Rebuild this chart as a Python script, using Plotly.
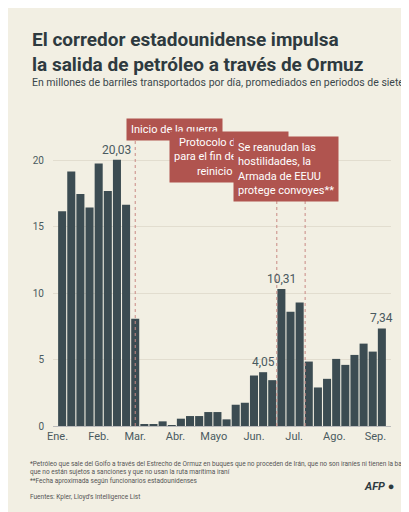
import plotly.graph_objects as go

values = [16.16, 19.15, 17.46, 16.44, 19.75, 17.68, 20.03, 16.66, 8.07,
          0.10, 0.15, 0.35, 0.05, 0.55, 0.75, 0.75, 1.05, 1.05, 0.50,
          1.60, 1.75, 3.80, 4.05, 3.45, 10.31, 8.60, 9.30, 4.85, 2.90,
          3.55, 5.05, 4.60, 5.35, 6.20, 5.60, 7.34]
month_labels = ["Ene.", "Feb.", "Mar.", "Abr.", "Mayo", "Jun.", "Jul.", "Ago.", "Sep."]
month_pos = [-0.5, 4.0, 8.0, 12.4, 16.6, 21.0, 25.4, 29.8, 34.3]
labelled = {6: "20,03", 22: "4,05", 24: "10,31", 35: "7,34"}

BG = "#f2efe3"
BAR = "#3c4c52"
RED = "#b0544f"
FONT = "Liberation Sans Narrow, Roboto, sans-serif"


# pixel row of the page -> paper y (plot spans px 135..418)
def py(p):
    return (418 - p) / 283


# pixel column -> paper x (plot spans px 45..383)
def px(p):
    return (p - 45) / 338


x = list(range(len(values)))
fig = go.Figure(go.Bar(x=x, y=values, marker_color=BAR, marker_line_width=0, width=0.88))

ann = []
for i, t in labelled.items():
    ann.append(dict(x=i, y=values[i], text=t, showarrow=False, yshift=10,
                    font=dict(size=12, color="#4a5a60", family=FONT)))

# event markers: (x position, box bottom)
events = [(8.0, py(120)), (23.5, py(143)), (26.6, py(153))]
for xe, top in events:
    fig.add_shape(type="line", x0=xe, x1=xe, y0=0, y1=top, xref="x", yref="paper",
                  line=dict(color="#c98a84", width=1, dash="dot"))

box = dict(showarrow=False, bgcolor=RED, font=dict(size=11, color="white", family=FONT),
           xref="paper", yref="paper", borderpad=4)
ann.append(dict(text="Inicio de la guerra", x=px(118), y=py(110), **box))
ann.append(dict(text="Protocolo de acuerdo<br>para el fin del conficto,<br>reinicio del tráfico",
                x=px(221), y=py(123), align="right", **box))
ann.append(dict(text="Se reanudan las<br>hostilidades, la<br>Armada de EEUU<br>protege convoyes**",
                x=px(331), y=py(128), align="left", **box))

top = dict(xref="paper", yref="paper", xanchor="left", align="left", showarrow=False)
ann.append(dict(text="<b>El corredor estadounidense impulsa<br>la salida de petróleo a través de Ormuz</b>",
                x=px(22), y=py(18), yanchor="top",
                font=dict(size=19, color="#2e3a3f", family=FONT), **top))
ann.append(dict(text="En millones de barriles transportados por día, promediados en periodos de siete días*",
                x=px(22), y=py(74), yanchor="middle",
                font=dict(size=10.5, color="#3a474c", family=FONT), **top))
foot = dict(yanchor="top", font=dict(size=6.5, color="#555", family=FONT), x=px(20), **top)
ann.append(dict(text="*Petróleo que sale del Golfo a través del Estrecho de Ormuz en buques que no proceden de Irán, que no son iraníes ni tienen la bandera iraní,<br>que no están sujetos a sanciones y que no usan la ruta marítima iraní",
                y=py(450), **foot))
ann.append(dict(text="**Fecha aproximada según funcionarios estadounidenses", y=py(467), **foot))
ann.append(dict(text="Fuentes: Kpler, Lloyd's Intelligence List", y=py(483), **foot))
ann.append(dict(text="<b><i>AFP</i></b> ●", x=px(388), xanchor="right", xref="paper", yref="paper",
                y=py(487), showarrow=False, font=dict(size=11, color="#2e3a3f", family=FONT)))

fig.update_layout(
    width=409, height=512, paper_bgcolor=BG, plot_bgcolor=BG,
    margin=dict(l=45, r=26, t=135, b=94), showlegend=False, bargap=0.1,
    annotations=ann,
    xaxis=dict(tickmode="array", tickvals=month_pos, ticktext=month_labels, range=[-1, 36],
               showgrid=False, zeroline=False, ticks="", showline=True, linecolor="#bbb",
               tickfont=dict(size=11, color="#4a5a60", family=FONT)),
    yaxis=dict(range=[0, 21.3], tickvals=[0, 5, 10, 15, 20], gridcolor="#e2ddcf",
               zeroline=False, tickfont=dict(size=10, color="#4a5a60", family=FONT), ticklabelstandoff=8),
)

fig.write_html("out.html")
